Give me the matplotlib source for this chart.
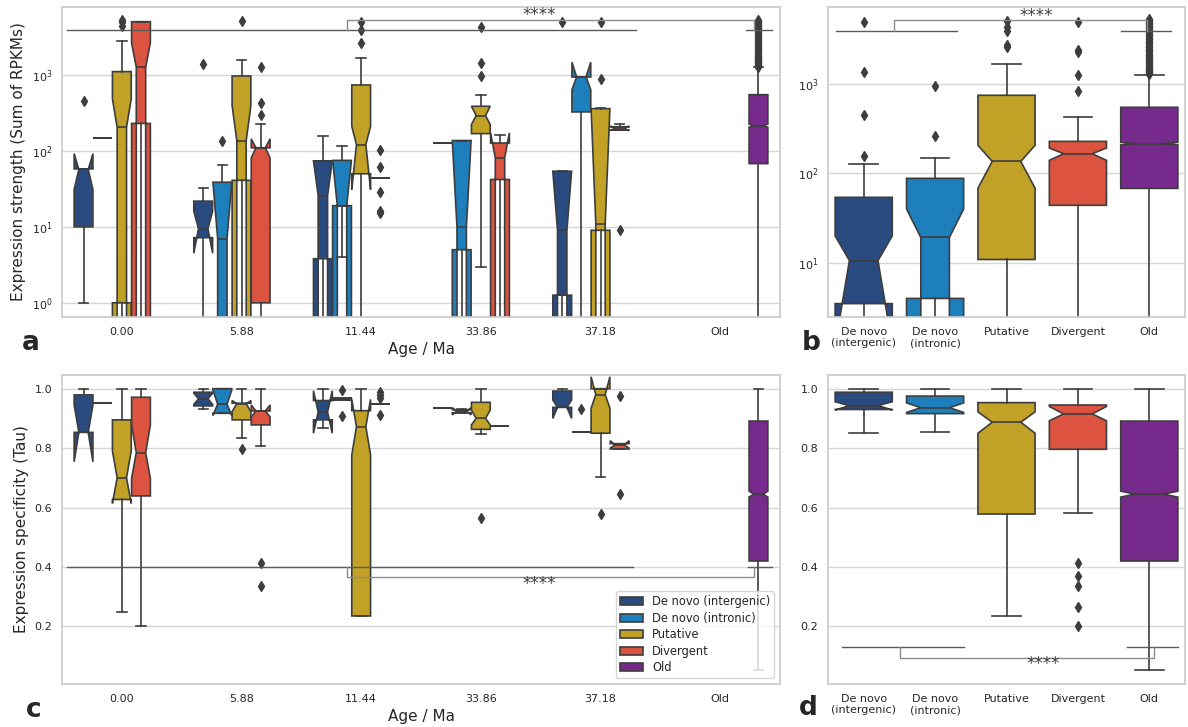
import matplotlib
matplotlib.use('Agg')
import matplotlib.pyplot as plt
from matplotlib.patches import Patch

# categories
ages = ['0.00', '5.88', '11.44', '33.86', '37.18', 'Old']
types = ['De novo (intergenic)', 'De novo (intronic)', 'Putative', 'Divergent', 'Old']
type_ticks = ['De novo\n(intergenic)', 'De novo\n(intronic)', 'Putative', 'Divergent', 'Old']
colors = ['#2a4b80', '#1d80bd', '#c1a226', '#dc5440', '#762b8c']

# panel a: expression strength, rows = intergenic, intronic, putative, divergent; cols = young ages
a_q1 = [[10, 7.2, 3.8, 127, 1.26],
        [150, 0, 19, 5.0, 326],
        [1.0, 41, 50, 169, 9.0],
        [230, 1.0, 43.6, 42, 188]]
a_med = [[57, 9.5, 25.8, 127, 9.0],
         [150, 7.0, 19, 9.9, 940],
         [205, 137, 121, 292, 11],
         [1260, 110, 43.6, 81, 198]]
a_q3 = [[58, 21.8, 74, 127, 54],
        [150, 38.7, 75, 137, 940],
        [1107, 970, 738, 387, 360],
        [5030, 110, 43.6, 127, 208]]
a_cilo = [[31, 4.5, -30, 127, -40],
          [150, -25, -40, -100, 640],
          [-73, -120, 31, 222, -300],
          [-120, 81, 43.6, -11, 185]]
a_cihi = [[92, 16, 74, 127, 54],
          [150, 38.7, 75, 137, 1470],
          [483, 395, 211, 387, 360],
          [2640, 144, 43.6, 173, 212]]
a_lo = [[1.0, 0, 0, 127, 0],
        [150, 0, 4.0, 0, 0],
        [0, 0, 0, 3.0, 0],
        [0, 0, 43.6, 0, 188]]
a_hi = [[58, 32.6, 155, 127, 54],
        [150, 66, 115, 137, 940],
        [2770, 1575, 1670, 540, 365],
        [5030, 229, 43.6, 164, 228]]
a_fliers = [[[460], [1400], [], [], [5030]],
            [[], [137], [], [], []],
            [[4400, 5000, 5300], [5080], [2650, 3950, 5000], [980, 1440, 4300], [885, 5030]],
            [[], [295, 425, 1280], [15.2, 16.2, 29, 61, 104], [], [9.0]]]

# old genes: q1, med, q3, cilo, cihi, whislo, whishi
old_expr = [68, 215, 550, 205, 225, 0, 1260]
old_expr_fliers = [1280, 1310, 1340, 1370, 1400, 1440, 1480, 1520, 1560, 1600, 1650,
                   1700, 1750, 1800, 1860, 1920, 1980, 2040, 2110, 2180, 2250, 2330,
                   2410, 2490, 2580, 2670, 2760, 2860, 2960, 3060, 3170, 3280, 3400,
                   3520, 3640, 3770, 3900, 4040, 4180, 4330, 4480, 4640, 4800, 4970,
                   5150, 5300]

# panel b: expression strength per type
b_q1 = [3.5, 4.0, 10.9, 44, 68]
b_med = [10.6, 19.2, 136, 166, 215]
b_q3 = [54, 88, 747, 228, 548]
b_cilo = [1.2, -1.6, 68.5, 140, 208]
b_cihi = [20, 40, 206, 192, 222]
b_lo = [0, 0, 0, 0, 0]
b_hi = [128, 149, 1675, 424, 1272]
b_fliers = [[158, 454, 1370, 4980], [262, 942], [2600, 2750, 3900, 4300, 5000],
            [842, 1260, 2300, 2420, 4980], old_expr_fliers]

# panel c: tau
c_q1 = [[0.853, 0.942, 0.895, 0.936, 0.937],
        [0.953, 0.917, 0.962, 0.919, 0.855],
        [0.627, 0.895, 0.235, 0.863, 0.85],
        [0.639, 0.878, 0.947, 0.875, 0.797]]
c_med = [[0.853, 0.966, 0.921, 0.936, 0.937],
         [0.953, 0.948, 0.965, 0.924, 0.855],
         [0.70, 0.949, 0.872, 0.900, 0.98],
         [0.785, 0.925, 0.947, 0.875, 0.81]]
c_q3 = [[0.979, 0.988, 0.96, 0.936, 0.992],
        [0.953, 1.0, 0.968, 0.929, 0.855],
        [0.895, 0.951, 0.926, 0.954, 1.0],
        [0.971, 0.925, 0.947, 0.875, 0.815]]
c_cilo = [[0.754, 0.947, 0.85, 0.936, 0.90],
          [0.953, 0.91, 0.96, 0.912, 0.855],
          [0.614, 0.923, 0.777, 0.878, 0.934],
          [0.698, 0.905, 0.947, 0.875, 0.80]]
c_cihi = [[0.945, 0.985, 0.993, 0.936, 0.962],
          [0.953, 0.995, 0.97, 0.936, 0.855],
          [0.79, 0.96, 0.964, 0.928, 1.04],
          [0.878, 0.945, 0.947, 0.875, 0.825]]
c_lo = [[0.853, 0.931, 0.866, 0.936, 0.937],
        [0.953, 0.917, 0.962, 0.917, 0.855],
        [0.249, 0.833, 0.235, 0.846, 0.704],
        [0.2, 0.808, 0.947, 0.875, 0.797]]
c_hi = [[1.0, 1.0, 1.0, 0.936, 1.0],
        [0.953, 1.0, 0.968, 0.931, 0.855],
        [1.0, 1.0, 1.0, 1.0, 1.0],
        [1.0, 1.0, 0.947, 0.875, 0.815]]
c_fliers = [[[], [], [], [], []],
            [[], [], [0.908, 0.996], [], [0.932]],
            [[], [0.797], [], [0.566], [0.578]],
            [[], [0.337, 0.414], [0.911, 0.968, 0.979, 0.99], [], [0.644, 0.976]]]

old_tau = [0.42, 0.645, 0.891, 0.635, 0.655, 0.053, 1.0]

# panel d: tau per type
d_q1 = [0.930, 0.916, 0.578, 0.796, 0.42]
d_med = [0.943, 0.936, 0.887, 0.915, 0.645]
d_q3 = [0.988, 0.975, 0.953, 0.945, 0.891]
d_cilo = [0.928, 0.92, 0.85, 0.892, 0.635]
d_cihi = [0.956, 0.952, 0.922, 0.94, 0.655]
d_lo = [0.852, 0.855, 0.236, 0.583, 0.053]
d_hi = [1.0, 1.0, 1.0, 1.0, 1.0]
d_fliers = [[], [], [], [0.2, 0.264, 0.337, 0.369, 0.414], []]

edge = '#3d3d3d'
lw = 1.2
txt = '#262626'


def box(ax, pos, width, color, q1, med, q3, cilo, cihi, lo, hi, fliers):
    st = dict(q1=q1, med=med, q3=q3, cilo=cilo, cihi=cihi,
              whislo=lo, whishi=hi, fliers=fliers)
    ax.bxp([st], positions=[pos], widths=[width], shownotches=True,
           patch_artist=True, manage_ticks=False,
           boxprops=dict(facecolor=color, edgecolor=edge, linewidth=lw),
           medianprops=dict(color=edge, linewidth=lw),
           whiskerprops=dict(color=edge, linewidth=lw),
           capprops=dict(color=edge, linewidth=lw),
           flierprops=dict(marker='d', markerfacecolor=edge, markeredgecolor=edge,
                           markersize=5, linestyle='none'))


def style(ax):
    for s in ax.spines.values():
        s.set_color('#cccccc')
        s.set_linewidth(1.25)
    ax.set_axisbelow(True)
    ax.yaxis.grid(True, color='#d6d6d6', linewidth=1)
    ax.xaxis.grid(False)
    ax.tick_params(length=0, pad=7, labelsize=8, colors=txt, which='both')


def sig(ax, x0, x1, ox0, ox1, bx0, bx1, y, yb, sx, sy):
    ax.plot([x0, x1], [y, y], color='#5a5a5a', lw=1)
    ax.plot([ox0, ox1], [y, y], color='#5a5a5a', lw=1)
    ax.plot([bx0, bx0, bx1, bx1], [y, yb, yb, y], color='#8c8c8c', lw=1)
    ax.text(sx, sy, '****', ha='center', va='center', fontsize=12, color='#404040')


fig = plt.figure(figsize=(11.88, 7.27), dpi=100)
W, H = 1188, 727


def axes_px(l, t, r, b):
    return fig.add_axes([l / W, 1 - b / H, (r - l) / W, (b - t) / H])


ax_a = axes_px(62, 7, 780, 317)
ax_b = axes_px(828, 7, 1185, 317)
ax_c = axes_px(62, 375, 780, 684)
ax_d = axes_px(828, 375, 1185, 684)

offsets = [-0.32, -0.16, 0, 0.16, 0.32]
bw = 0.157

# panel a
ax_a.set_yscale('log')
for t in range(4):
    for i in range(5):
        box(ax_a, i + offsets[t], bw, colors[t], a_q1[t][i], a_med[t][i], a_q3[t][i],
            a_cilo[t][i], a_cihi[t][i], a_lo[t][i], a_hi[t][i], a_fliers[t][i])
box(ax_a, 5 + offsets[4], bw, colors[4], *old_expr, old_expr_fliers)
sig(ax_a, -0.46, 4.30, 5.22, 5.43, 1.88, 5.28, 3870, 5350, 3.49, 6100)
ax_a.set_xlim(-0.5, 5.5)
ax_a.set_ylim(0.65, 7850)
ax_a.set_xticks(range(6))
ax_a.set_xticklabels(ages)
ax_a.set_xlabel('Age / Ma', fontsize=11, color=txt, labelpad=4)
ax_a.set_ylabel('Expression strength (Sum of RPKMs)', fontsize=11, color=txt)
style(ax_a)

# panel b
ax_b.set_yscale('log')
for t in range(5):
    box(ax_b, t, 0.8, colors[t], b_q1[t], b_med[t], b_q3[t], b_cilo[t], b_cihi[t],
        b_lo[t], b_hi[t], b_fliers[t])
sig(ax_b, -0.39, 1.31, 3.60, 4.31, 0.43, 3.97, 3950, 5160, 2.42, 5800)
ax_b.set_xlim(-0.5, 4.5)
ax_b.set_ylim(2.48, 7250)
ax_b.set_xticks(range(5))
ax_b.set_xticklabels(type_ticks)
style(ax_b)

# panel c
for t in range(4):
    for i in range(5):
        box(ax_c, i + offsets[t], bw, colors[t], c_q1[t][i], c_med[t][i], c_q3[t][i],
            c_cilo[t][i], c_cihi[t][i], c_lo[t][i], c_hi[t][i], c_fliers[t][i])
box(ax_c, 5 + offsets[4], bw, colors[4], *old_tau, [])
sig(ax_c, -0.46, 4.27, 5.23, 5.43, 1.88, 5.28, 0.401, 0.366, 3.49, 0.343)
ax_c.set_xlim(-0.5, 5.5)
ax_c.set_ylim(0.006, 1.046)
ax_c.set_yticks([0.2, 0.4, 0.6, 0.8, 1.0])
ax_c.set_xticks(range(6))
ax_c.set_xticklabels(ages)
ax_c.set_xlabel('Age / Ma', fontsize=11, color=txt, labelpad=4)
ax_c.set_ylabel('Expression specificity (Tau)', fontsize=11, color=txt)
style(ax_c)
handles = [Patch(facecolor=c, edgecolor=edge, linewidth=lw, label=l) for c, l in zip(colors, types)]
leg = ax_c.legend(handles=handles, loc='lower right', fontsize=8.3, frameon=True,
                  labelspacing=0.3, borderpad=0.35)
leg.get_frame().set_edgecolor('#cccccc')
for tx in leg.get_texts():
    tx.set_color(txt)

# panel d
for t in range(5):
    box(ax_d, t, 0.8, colors[t], d_q1[t], d_med[t], d_q3[t], d_cilo[t], d_cihi[t],
        d_lo[t], d_hi[t], d_fliers[t])
sig(ax_d, -0.30, 1.40, 3.69, 4.40, 0.51, 4.06, 0.130, 0.0945, 2.51, 0.073)
ax_d.set_xlim(-0.5, 4.5)
ax_d.set_ylim(0.006, 1.046)
ax_d.set_yticks([0.2, 0.4, 0.6, 0.8, 1.0])
ax_d.set_xticks(range(5))
ax_d.set_xticklabels(type_ticks)
style(ax_d)

# panel letters
for letter, x, y in [('a', 22, 350), ('b', 802, 350), ('c', 26, 717), ('d', 799, 715)]:
    fig.text(x / W, 1 - y / H, letter, fontsize=19, fontweight='bold', color=txt,
             ha='left', va='baseline')

fig.savefig('out.png', dpi=100)
